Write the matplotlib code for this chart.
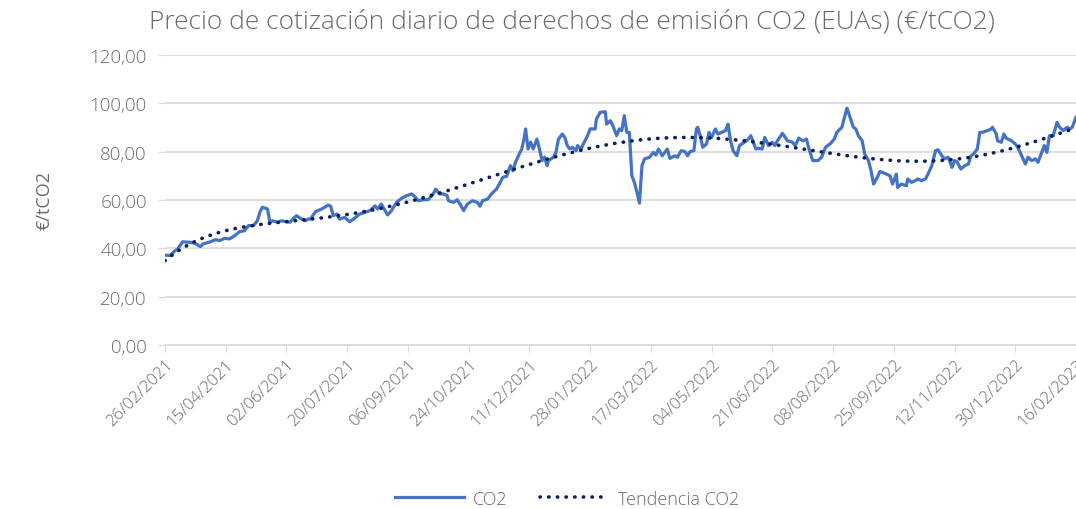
"""Precio diario de derechos de emisión CO2 (EUAs) con línea de tendencia."""

import matplotlib
matplotlib.use("Agg")
import matplotlib.dates as mdates
import matplotlib.pyplot as plt
import numpy as np
import pandas as pd
from matplotlib.ticker import FuncFormatter, MultipleLocator

# ------------------------------------------------------------------ #
# Data
# ------------------------------------------------------------------ #

START_DATE = "2021-02-26"
END_DATE = "2023-02-16"
TICK_STEP_DAYS = 48

# Days since START_DATE.
day_offset = [
    0, 4, 8, 10, 14, 20, 24, 28, 30, 36, 40, 43, 47, 51, 55, 59, 63, 66, 70,
    73, 75, 77, 81, 83, 85, 89, 92, 96, 99, 101, 104, 107, 111, 113, 115, 119,
    124, 129, 131, 133, 136, 138, 142, 146, 149, 154, 158, 162, 166, 168, 171,
    174, 176, 179, 183, 187, 191, 195, 198, 200, 204, 208, 212, 214, 217, 220,
    223, 224, 228, 231, 234, 236, 239, 243, 247, 249, 251, 255, 258, 262, 265,
    267, 270, 273, 275, 277, 280, 282, 284, 285, 287, 289, 291, 294, 296, 298,
    300, 302, 303, 307, 309, 311, 314, 316, 318, 320, 322, 325, 326, 329, 330,
    334, 336, 340, 341, 344, 348, 349, 352, 354, 357, 359, 361, 363, 365, 367,
    369, 371, 373, 375, 377, 379, 383, 386, 388, 390, 393, 397, 399, 403, 405,
    408, 411, 413, 415, 418, 420, 421, 423, 425, 428, 430, 432, 435, 437, 440,
    443, 445, 447, 449, 452, 454, 458, 461, 463, 465, 467, 469, 472, 474, 477,
    480, 482, 484, 488, 492, 496, 498, 501, 504, 507, 509, 512, 516, 519, 522,
    526, 529, 531, 535, 537, 539, 541, 544, 546, 548, 551, 553, 556, 558, 560,
    563, 565, 569, 573, 575, 578, 579, 582, 586, 587, 590, 593, 595, 598, 601,
    603, 606, 609, 611, 614, 616, 619, 622, 624, 626, 629, 632, 635, 637, 639,
    642, 644, 646, 650, 653, 654, 657, 658, 661, 663, 665, 669, 672, 674, 677,
    680, 682, 685, 688, 690, 693, 695, 697, 699, 702, 705, 707, 710, 713, 715,
    717, 720,
]

co2_price = [
    37.2, 37.0, 39.0, 39.7, 42.7, 42.5, 42.0, 40.7, 41.8, 42.7, 43.6, 43.2,
    44.1, 43.9, 45.2, 46.9, 47.3, 49.4, 49.4, 51.4, 54.9, 57.0, 56.3, 50.8,
    51.4, 50.8, 51.4, 51.0, 50.8, 52.1, 53.5, 52.4, 51.4, 52.1, 52.1, 55.2,
    56.3, 57.9, 57.4, 53.5, 54.2, 52.1, 52.8, 51.0, 52.1, 54.2, 54.9, 55.6,
    57.6, 56.3, 58.3, 55.6, 53.8, 55.6, 59.0, 60.7, 61.8, 62.5, 61.1, 59.7,
    60.1, 60.1, 62.5, 64.5, 62.5, 62.5, 61.8, 59.7, 59.0, 60.1, 57.6, 55.6,
    58.3, 59.7, 59.0, 57.4, 59.7, 60.4, 62.5, 64.5, 67.3, 69.4, 69.8, 74.2,
    72.1, 75.6, 79.0, 81.1, 85.9, 89.4, 81.1, 83.9, 81.1, 85.2, 81.1, 76.3,
    77.7, 74.2, 76.3, 77.7, 79.7, 85.2, 87.3, 85.9, 82.5, 81.1, 81.8, 80.4,
    82.5, 81.1, 82.5, 86.6, 89.4, 89.4, 93.5, 96.3, 96.5, 91.4, 92.8, 90.7,
    86.6, 89.4, 88.7, 94.9, 88.0, 88.0, 70.0, 67.3, 63.2, 58.7, 74.2, 77.0,
    77.7, 79.7, 78.6, 81.1, 78.3, 81.1, 77.2, 78.3, 77.7, 80.4, 80.0, 78.3,
    80.0, 80.4, 89.4, 90.1, 86.6, 81.8, 83.2, 88.0, 85.9, 89.4, 87.3, 88.0,
    88.7, 91.4, 84.5, 80.4, 78.3, 82.5, 83.9, 85.2, 86.6, 83.9, 81.1, 81.4,
    81.1, 85.9, 82.5, 83.9, 82.5, 84.5, 87.6, 84.5, 83.9, 82.5, 85.6, 84.5,
    85.2, 81.1, 76.3, 76.3, 77.7, 81.8, 83.4, 85.2, 88.0, 90.1, 94.2, 98.0,
    94.9, 90.1, 89.4, 86.6, 84.5, 79.0, 76.3, 72.1, 66.6, 69.4, 71.8, 71.0,
    70.0, 66.6, 70.7, 65.2, 66.6, 65.9, 68.7, 67.3, 68.0, 68.7, 68.0, 68.7,
    70.7, 74.2, 80.4, 80.8, 78.3, 77.0, 77.7, 73.5, 76.3, 75.8, 72.8, 74.2,
    74.9, 78.3, 79.0, 81.1, 88.0, 88.0, 88.7, 89.4, 90.1, 87.3, 84.5, 83.9,
    87.3, 85.5, 84.5, 83.2, 81.8, 78.3, 74.9, 77.7, 76.3, 77.0, 75.6, 79.7,
    82.5, 79.7, 86.6, 86.6, 92.1, 90.1, 88.7, 90.1, 89.4, 90.1, 94.2,
]

TREND_DEGREE = 6  # polynomial trend, as in the spreadsheet

# ------------------------------------------------------------------ #
# Styling
# ------------------------------------------------------------------ #

LINE_COLOUR = "#4472C4"
TREND_COLOUR = "#0B1F5C"
TEXT_COLOUR = "#6B6B6B"
GRID_COLOUR = "#D9D9D9"
FONT = ["Open Sans", "DejaVu Sans"]

plt.rcParams["font.family"] = FONT
plt.rcParams["font.weight"] = "light"


def comma_fmt(v, _pos):
    return f"{v:.2f}".replace(".", ",")


def main() -> None:
    start = pd.Timestamp(START_DATE)
    days = np.asarray(day_offset, dtype=float)
    dates = start + pd.to_timedelta(days, unit="D")
    prices = np.asarray(co2_price)

    # Polynomial trend (least squares on the plotted series).
    coeffs = np.polyfit(days / 100.0, prices, TREND_DEGREE)
    trend_days = np.arange(0, days.max() + 1)
    trend_dates = start + pd.to_timedelta(trend_days, unit="D")
    trend_vals = np.polyval(coeffs, trend_days / 100.0)

    fig = plt.figure(figsize=(10.76, 5.10), dpi=100)
    ax = fig.add_axes([0.1533, 0.3216, 0.8467, 0.5686])

    ax.plot(dates, prices, color=LINE_COLOUR, lw=2.3, solid_joinstyle="round",
            label="CO2", zorder=3)
    ax.plot(trend_dates, trend_vals, color=TREND_COLOUR, lw=2.6,
            linestyle=(0, (0.1, 2.3)), dash_capstyle="round",
            label="Tendencia CO2", zorder=4)

    ax.set_xlim(start, pd.Timestamp(END_DATE))
    ax.set_ylim(0, 120)
    ax.yaxis.set_major_locator(MultipleLocator(20))
    ax.yaxis.set_major_formatter(FuncFormatter(comma_fmt))

    ticks = pd.date_range(START_DATE, END_DATE, freq=f"{TICK_STEP_DAYS}D")
    ax.set_xticks(ticks)
    ax.xaxis.set_major_formatter(mdates.DateFormatter("%d/%m/%Y"))
    for lbl in ax.get_xticklabels():
        lbl.set_rotation(45)
        lbl.set_ha("right")
        lbl.set_rotation_mode("anchor")

    ax.grid(axis="y", color=GRID_COLOUR, lw=1.2)
    ax.set_axisbelow(True)
    for side in ("top", "right", "left"):
        ax.spines[side].set_visible(False)
    ax.spines["bottom"].set_color(GRID_COLOUR)
    ax.spines["bottom"].set_linewidth(1.2)
    ax.tick_params(axis="y", length=5, color=GRID_COLOUR, labelsize=13.5,
                   labelcolor=TEXT_COLOUR, pad=8)
    ax.tick_params(axis="x", length=5, color=GRID_COLOUR, labelsize=12,
                   labelcolor=TEXT_COLOUR, pad=3)

    ax.set_ylabel("€/tCO2", fontsize=13, color=TEXT_COLOUR, labelpad=26)
    fig.text(0.532, 0.956, "Precio de cotización diario de derechos de emisión CO2 (EUAs) (€/tCO2)",
             ha="center", va="center", fontsize=19, color=TEXT_COLOUR)

    fig.legend(loc="center", bbox_to_anchor=(0.527, 0.02), ncol=2, frameon=False,
               fontsize=13, labelcolor=TEXT_COLOUR, handlelength=3.8,
               handletextpad=0.5, columnspacing=1.8)

    fig.savefig("out.png", dpi=100)
    plt.close(fig)


if __name__ == "__main__":
    main()
